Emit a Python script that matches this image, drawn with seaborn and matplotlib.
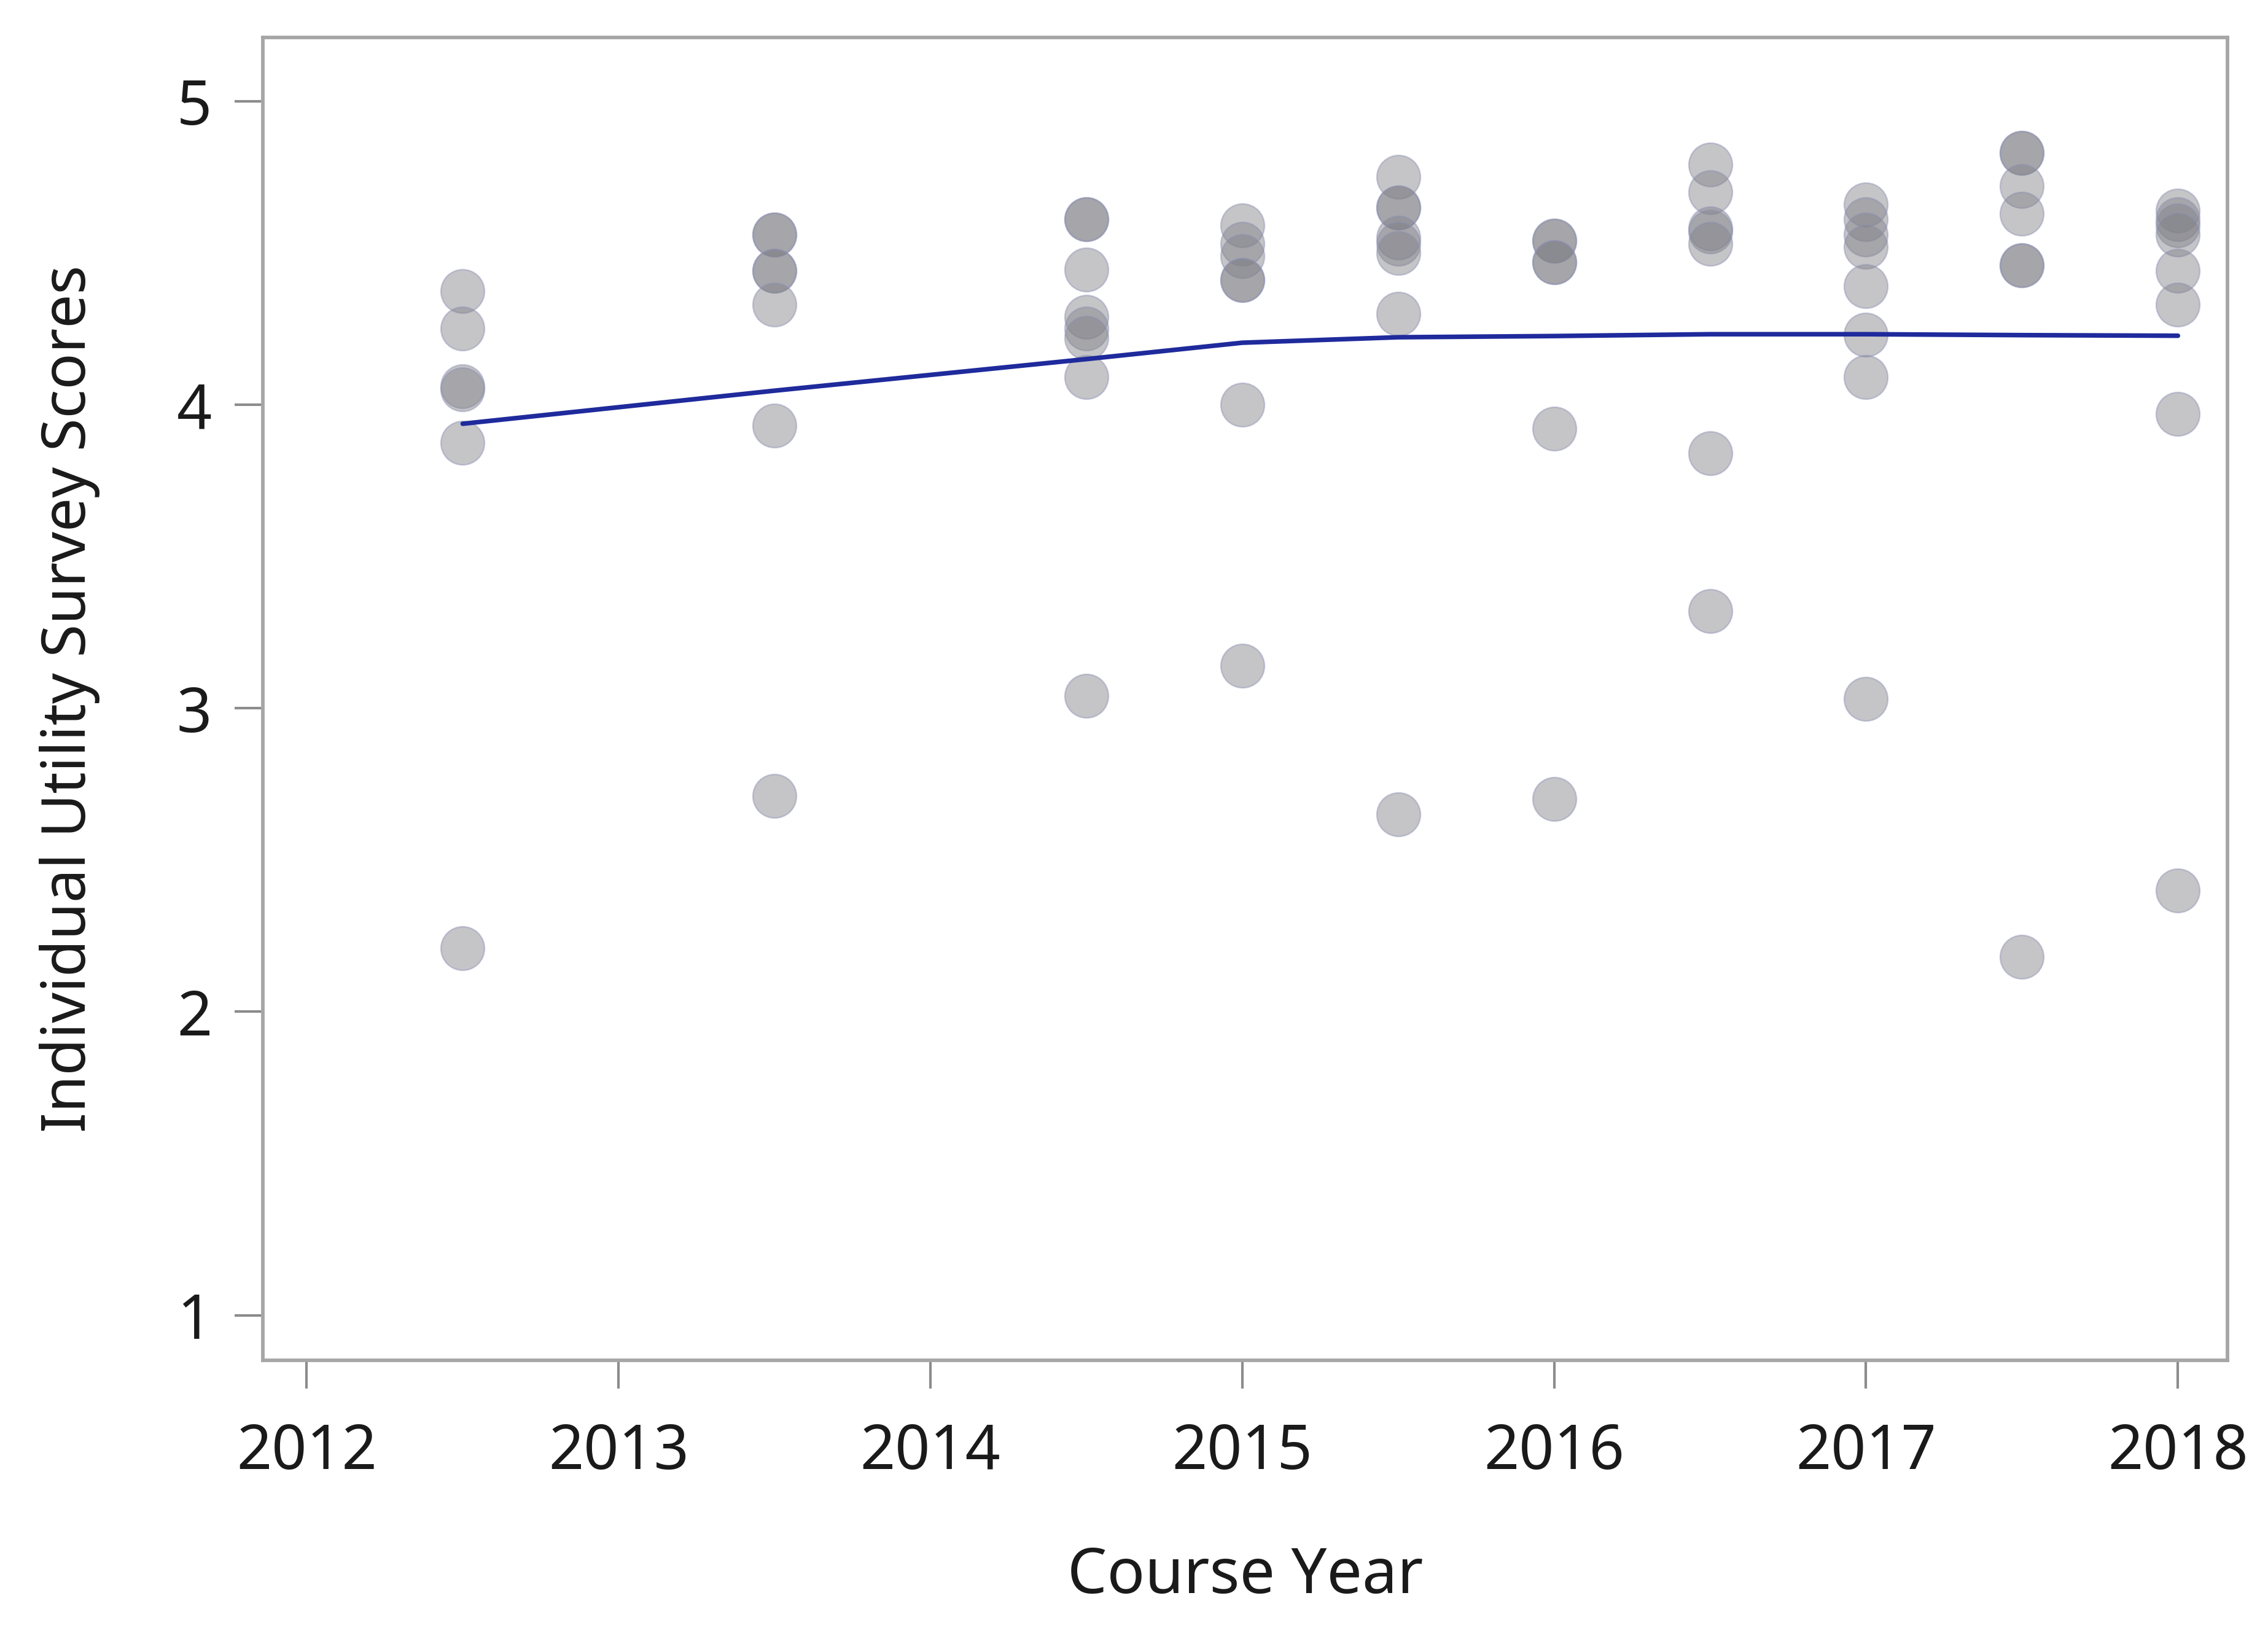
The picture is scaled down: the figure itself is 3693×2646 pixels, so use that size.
import numpy as np
import pandas as pd
import matplotlib
matplotlib.use("Agg")
import matplotlib.pyplot as plt
import seaborn as sns

# ---- data ----
y2012_5 = [4.375, 4.25, 4.06, 4.05, 3.875, 2.21]
y2013_5 = [4.56, 4.56, 4.44, 4.44, 4.33, 3.93, 2.71]
y2014_5 = [4.61, 4.61, 4.445, 4.29, 4.25, 4.22, 4.09, 3.04]
y2015 = [4.59, 4.53, 4.49, 4.41, 4.41, 4.00, 3.14]
y2015_5 = [4.75, 4.65, 4.65, 4.55, 4.53, 4.50, 4.30, 2.65]
y2016 = [4.54, 4.54, 4.47, 4.47, 3.92, 2.70]
y2016_5 = [4.79, 4.70, 4.58, 4.57, 4.53, 3.84, 3.32]
y2017 = [4.66, 4.61, 4.56, 4.52, 4.39, 4.23, 4.09, 3.03]
y2017_5 = [4.83, 4.83, 4.72, 4.63, 4.46, 4.46, 2.18]
y2018 = [4.64, 4.61, 4.59, 4.56, 4.44, 4.33, 3.97, 2.40]

course_years = [2012.5, 2013.5, 2014.5, 2015, 2015.5, 2016, 2016.5, 2017, 2017.5, 2018]
scores = [y2012_5, y2013_5, y2014_5, y2015, y2015_5, y2016, y2016_5, y2017, y2017_5, y2018]

# fitted trend line
fit_years = [2012.5, 2013.5, 2014.5, 2015, 2015.5, 2016, 2016.5, 2017, 2017.5, 2018]
fit_values = [3.937, 4.046, 4.15, 4.204, 4.222, 4.226, 4.232, 4.232, 4.229, 4.227]

rows = []
for yr, vals in zip(course_years, scores):
    for v in vals:
        rows.append({"year": yr, "score": v})
df = pd.DataFrame(rows)
fit_df = pd.DataFrame({"year": fit_years, "fit": fit_values})

sns.set_theme(style="white")
plt.rcParams['font.family'] = ['Noto Sans', 'DejaVu Sans']

fig = plt.figure(figsize=(3693 / 300, 2646 / 300), dpi=300)
ax = fig.add_axes([0.116, 0.163, 0.866, 0.814])

sns.scatterplot(data=df, x="year", y="score", ax=ax, s=290,
                color=(0.50, 0.50, 0.53), alpha=0.45,
                edgecolor=(0.55, 0.57, 0.70), linewidth=0.6, zorder=2)
sns.lineplot(data=fit_df, x="year", y="fit", ax=ax, color="#1f2a9c",
             linewidth=1.8, zorder=3)

ax.set_xlim(2011.86, 2018.158)
ax.set_ylim(0.852, 5.21)
ax.set_xticks([2012, 2013, 2014, 2015, 2016, 2017, 2018])
ax.set_yticks([1, 2, 3, 4, 5])
ax.set_xticklabels(["2012", "2013", "2014", "2015", "2016", "2017", "2018"])
ax.set_yticklabels(["1", "2", "3", "4", "5"])

for sp in ax.spines.values():
    sp.set_color("#a6a6a6")
    sp.set_linewidth(1.4)

ax.tick_params(axis="both", which="both", direction="out", length=11,
               width=1.0, color="#8c8c8c", labelsize=24, labelcolor="#1a1a1a",
               bottom=True, left=True)
ax.tick_params(axis="x", pad=13)
ax.tick_params(axis="y", pad=9)

ax.set_xlabel("Course Year", fontsize=24.5, color="#1a1a1a", labelpad=24)
ax.set_ylabel("Individual Utility Survey Scores", fontsize=23.5, color="#1a1a1a", labelpad=30)

fig.savefig("out.png", dpi=300, facecolor="white")
